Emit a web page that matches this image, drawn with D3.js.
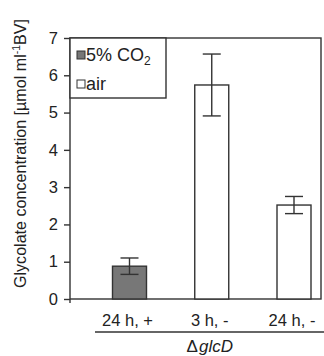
<!DOCTYPE html>
<html>
<head>
<meta charset="utf-8">
<script src="https://cdn.jsdelivr.net/npm/d3@7"></script>
<style>
  body { margin: 0; background: #fff; }
  text { font-family: "Liberation Sans", Arial, sans-serif; fill: #222; }
</style>
</head>
<body>
<script>
// data
var categories = ['24 h, +', '3 h, -', '24 h, -'];
var values = [0.88, 5.74, 2.52];
var errors = [0.22, 0.83, 0.23];
var conditions = ['co2', 'air', 'air'];
var yTicks = [0, 1, 2, 3, 4, 5, 6, 7];
var legendItems = [{ key: 'co2', label: '5% CO' }, { key: 'air', label: 'air' }];

var colors = { co2: '#777777', air: '#ffffff' };
var stroke = '#333';

var W = 324, H = 356;
// plot edges (note: "top" is reserved on window, so use pTop etc.)
var pLeft = 70, pRight = 321, pTop = 38, pBottom = 299;

var svg = d3.select('body').append('svg').attr('width', W).attr('height', H);

var y = d3.scaleLinear().domain([0, 7]).range([pBottom, pTop]);
var x = d3.scalePoint().domain(categories).range([129.5, 294]);
var barW = 34;

// frame
svg.append('rect')
   .attr('x', pLeft).attr('y', pTop)
   .attr('width', pRight - pLeft).attr('height', pBottom - pTop)
   .attr('fill', 'none').attr('stroke', stroke).attr('stroke-width', 1.4);

// y axis
var yAxis = svg.append('g')
   .attr('transform', 'translate(' + pLeft + ',0)')
   .call(d3.axisLeft(y).tickValues(yTicks).tickSize(6).tickPadding(6).tickFormat(d3.format('d')));
yAxis.select('.domain').remove();
yAxis.selectAll('line').attr('stroke', stroke).attr('stroke-width', 1.4);
yAxis.selectAll('text').attr('font-size', 16.5).style('font-family', '"Liberation Sans", Arial, sans-serif').attr('fill', '#222');

// small stub below the origin
svg.append('line')
   .attr('x1', pLeft).attr('x2', pLeft).attr('y1', pBottom).attr('y2', pBottom + 4)
   .attr('stroke', stroke).attr('stroke-width', 1.4);

// bars
svg.selectAll('rect.bar')
   .data(values)
   .enter()
   .append('rect')
   .attr('class', 'bar')
   .attr('x', function (d, i) { return x(categories[i]) - barW / 2; })
   .attr('y', function (d) { return y(d); })
   .attr('width', barW)
   .attr('height', function (d) { return y(0) - y(d); })
   .attr('fill', function (d, i) { return colors[conditions[i]]; })
   .attr('stroke', stroke).attr('stroke-width', 1.4);

// error bars
var eb = svg.selectAll('g.err')
   .data(values)
   .enter()
   .append('g')
   .attr('class', 'err');
eb.append('line')
   .attr('x1', function (d, i) { return x(categories[i]); })
   .attr('x2', function (d, i) { return x(categories[i]); })
   .attr('y1', function (d, i) { return y(d + errors[i]); })
   .attr('y2', function (d, i) { return y(d - errors[i]); });
eb.append('line')
   .attr('x1', function (d, i) { return x(categories[i]) - 9; })
   .attr('x2', function (d, i) { return x(categories[i]) + 9; })
   .attr('y1', function (d, i) { return y(d + errors[i]); })
   .attr('y2', function (d, i) { return y(d + errors[i]); });
eb.append('line')
   .attr('x1', function (d, i) { return x(categories[i]) - 9; })
   .attr('x2', function (d, i) { return x(categories[i]) + 9; })
   .attr('y1', function (d, i) { return y(d - errors[i]); })
   .attr('y2', function (d, i) { return y(d - errors[i]); });
eb.selectAll('line').attr('stroke', stroke).attr('stroke-width', 1.4);

// category labels
svg.selectAll('text.cat')
   .data(categories)
   .enter()
   .append('text')
   .attr('class', 'cat')
   .attr('x', function (d) { return x(d) - 2; })
   .attr('y', 326)
   .attr('text-anchor', 'middle')
   .attr('font-size', 16.5)
   .text(function (d) { return d; });

// group underline and strain label
svg.append('line')
   .attr('x1', 95).attr('x2', 324).attr('y1', 332).attr('y2', 332)
   .attr('stroke', stroke).attr('stroke-width', 1.4);
var strain = svg.append('text')
   .attr('x', x(categories[1]) - 2).attr('y', 352)
   .attr('text-anchor', 'middle').attr('font-size', 17);
strain.append('tspan').text('\u0394');
strain.append('tspan').attr('font-style', 'italic').attr('dx', 1).text('glcD');

// legend
var lg = svg.append('g');
lg.append('rect')
   .attr('x', pLeft).attr('y', pTop).attr('width', 96).attr('height', 60)
   .attr('fill', '#fff').attr('stroke', stroke).attr('stroke-width', 1.4);
var li = lg.selectAll('g.item')
   .data(legendItems)
   .enter()
   .append('g')
   .attr('class', 'item')
   .attr('transform', function (d, i) { return 'translate(77,' + (51 + i * 29) + ')'; });
li.append('rect')
   .attr('width', 8).attr('height', 8)
   .attr('fill', function (d) { return colors[d.key]; })
   .attr('stroke', stroke).attr('stroke-width', 1);
var lt = li.append('text')
   .attr('x', 9).attr('y', 10)
   .attr('font-size', 18);
lt.append('tspan').text(function (d) { return d.label; });
lt.filter(function (d) { return d.key === 'co2'; })
  .append('tspan').attr('font-size', 12).attr('dy', 4).text('2');

// y title
var yt = svg.append('text')
   .attr('transform', 'translate(26,153.5) rotate(-90)')
   .attr('text-anchor', 'middle')
   .attr('font-size', 16.1);
yt.append('tspan').text('Glycolate concentration [\u00b5mol ml');
yt.append('tspan').attr('font-size', 10.5).attr('dy', -6).text('-1');
yt.append('tspan').attr('dy', 6).text('BV]');
</script>
</body>
</html>
